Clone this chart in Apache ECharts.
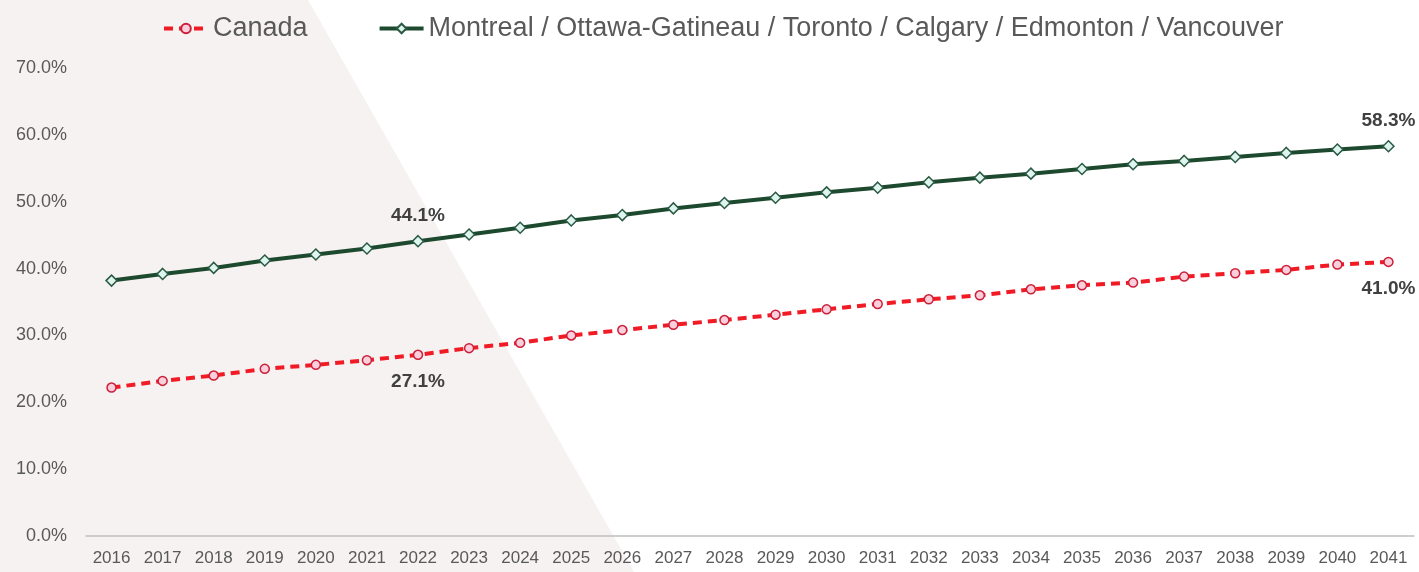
<!DOCTYPE html>
<html>
<head>
<meta charset="utf-8">
<title>Share of population</title>
<script src="https://cdn.jsdelivr.net/npm/echarts/dist/echarts.min.js"></script>
<style>
	html, body { margin: 0; padding: 0; background: #fff; }
	#canvas { width: 1419px; height: 572px; }
</style>
</head>
<body>
<div id="canvas"></div>
<script>
var years = ['2016', '2017', '2018', '2019', '2020', '2021', '2022', '2023', '2024', '2025', '2026', '2027', '2028',
	'2029', '2030', '2031', '2032', '2033', '2034', '2035', '2036', '2037', '2038', '2039', '2040', '2041'];

var canadaName = 'Canada';
var canada = [22.2, 23.2, 24.0, 25.0, 25.6, 26.3, 27.1, 28.1, 28.9, 30.0, 30.8, 31.6, 32.3,
	33.1, 33.9, 34.7, 35.4, 36.0, 36.9, 37.5, 37.9, 38.8, 39.3, 39.8, 40.6, 41.0];

var citiesName = 'Montreal / Ottawa-Gatineau / Toronto / Calgary / Edmonton / Vancouver';
var cities = [38.2, 39.2, 40.1, 41.2, 42.1, 43.0, 44.1, 45.1, 46.1, 47.2, 48.0, 49.0, 49.8,
	50.6, 51.4, 52.1, 52.9, 53.6, 54.2, 54.9, 55.6, 56.1, 56.7, 57.3, 57.8, 58.3];

// points that carry a value label (2022 and 2041)
var labelled = [6, 25];

var yTicks = [0, 10, 20, 30, 40, 50, 60, 70];

var font = "'Liberation Sans', Arial, sans-serif";

function pct(v) {
	return v.toFixed(1) + '%';
}

// build data items, only some of them get a label
function withLabels(values, position) {
	return values.map(function (v, i) {
		if (labelled.indexOf(i) < 0) return v;
		return {
			value: v,
			label: {
				show: true,
				position: position,
				distance: position == 'top' ? 10 : 12,
				formatter: function (p) { return pct(p.value); },
				fontFamily: font,
				fontSize: 19,
				fontWeight: 'bold',
				color: '#404040'
			}
		};
	});
}

var myChart = echarts.init(document.getElementById('canvas'));

var option = {
	backgroundColor: '#ffffff',
	animation: false,
	// pale slanted panel behind the left part
	graphic: {
		elements: [{
			type: 'polygon',
			z: -10,
			silent: true,
			shape: { points: [[0, 0], [308, 0], [634, 572], [0, 572]] },
			style: { fill: '#f6f2f1' }
		}]
	},
	legend: {
		left: 157,
		top: 10,
		itemWidth: 44,
		itemHeight: 12,
		itemGap: 70,
		lineStyle: { width: 4 },
		textStyle: {
			fontFamily: font,
			fontSize: 27,
			color: '#595959'
		},
		data: [canadaName, citiesName]
	},
	grid: { left: 86, right: 5, top: 68, bottom: 36 },
	xAxis: {
		type: 'category',
		data: years,
		boundaryGap: true,
		axisLine: { lineStyle: { color: '#bfbfbf', width: 1.5 } },
		axisTick: { show: false },
		axisLabel: {
			margin: 14,
			interval: 0,
			fontFamily: font,
			fontSize: 17,
			color: '#595959'
		}
	},
	yAxis: {
		type: 'value',
		min: yTicks[0],
		max: yTicks[yTicks.length - 1],
		interval: 10,
		splitLine: { show: false },
		axisLine: { show: false },
		axisTick: { show: false },
		axisLabel: {
			margin: 19,
			fontFamily: font,
			fontSize: 18,
			color: '#595959',
			formatter: function (v) { return pct(v); }
		}
	},
	series: [
		{
			name: canadaName,
			type: 'line',
			data: withLabels(canada, 'bottom'),
			symbol: 'circle',
			symbolSize: 9,
			lineStyle: { color: '#f01b24', width: 4, type: [9, 6] },
			itemStyle: { color: '#f9cfdb', borderColor: '#cc1f3a', borderWidth: 1.5 },
			z: 3
		},
		{
			name: citiesName,
			type: 'line',
			data: withLabels(cities, 'top'),
			symbol: 'diamond',
			symbolSize: 11,
			lineStyle: { color: '#1d4a2e', width: 4 },
			itemStyle: { color: '#def4ee', borderColor: '#2b5a44', borderWidth: 1.5 },
			z: 3
		}
	]
};

myChart.setOption(option);
</script>
</body>
</html>
